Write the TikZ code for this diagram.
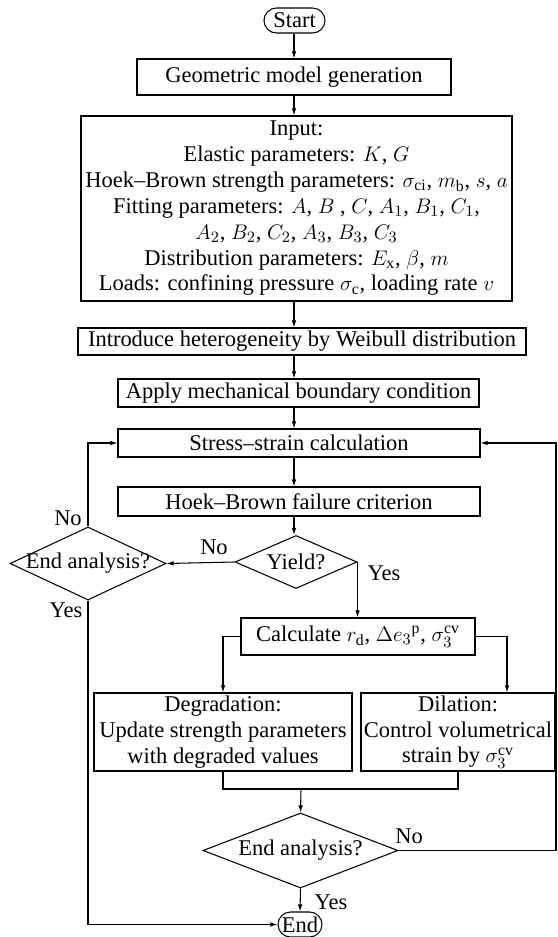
\documentclass[tikz,border=0pt]{standalone}
\usepackage{fontspec}
\setmainfont{Liberation Serif}
\usepackage{tikz}
\usetikzlibrary{shapes.geometric,arrows.meta}
\tikzstyle{Pbox}=[shape=rectangle,draw=black,line width=0.6pt,align=center,inner sep=0pt]
\tikzstyle{Dbox}=[shape=diamond,draw=black,line width=0.6pt,inner sep=0pt]
\tikzstyle{Tbox}=[shape=rectangle,draw=black,line width=0.6pt,rounded corners=0.25cm,inner sep=0pt,minimum height=0.5cm]
\tikzstyle{Tlabel}=[inner sep=0pt]
\tikzstyle{flowline}=[line width=0.6pt]
\tikzstyle{flowedge}=[-{Latex[length=4pt,width=2.6pt]},line width=0.6pt]

\begin{document}
\begin{tikzpicture}[font=\fontsize{12.8pt}{14.7pt}\selectfont]
\useasboundingbox (0,0) rectangle (11.14,-18.74);
\coordinate (col) at (5.88,0);

\node[Tbox,minimum width=1.22cm] (start) at (5.89,-0.41) {Start};
\node[Pbox,minimum width=6.28cm,minimum height=0.72cm] (geo) at (5.88,-1.54) {Geometric model generation};
\node[Pbox,minimum width=8.62cm,minimum height=3.70cm] (input) at (5.93,-4.17) {Input:\\
 Elastic parameters: $K$, $G$\\
 Hoek--Brown strength parameters: $\sigma_{\mathrm{ci}}$, $m_{\mathrm{b}}$, $s$, $a$\\
 Fitting parameters: $A$, $B$ , $C$, $A_1$, $B_1$, $C_1$,\\
 $A_2$, $B_2$, $C_2$, $A_3$, $B_3$, $C_3$\\
 Distribution parameters: $E_{\mathrm{x}}$, $\beta$, $m$\\
 Loads: confining pressure $\sigma_{\mathrm{c}}$, loading rate $v$};
\node[Pbox,minimum width=8.96cm,minimum height=0.54cm] (intro) at (6.04,-6.83) {Introduce heterogeneity by Weibull distribution};
\node[Pbox,minimum width=7.22cm,minimum height=0.56cm] (apply) at (5.97,-7.86) {Apply mechanical boundary condition};
\node[Pbox,minimum width=7.24cm,minimum height=0.56cm] (stress) at (5.98,-8.86) {Stress--strain calculation};
\node[Pbox,minimum width=7.24cm,minimum height=0.58cm] (hoek) at (5.98,-10.03) {Hoek--Brown failure criterion};

\node[Dbox,aspect=2.3,minimum width=2.44cm,minimum height=1.06cm] (yield) at (5.92,-11.24) {Yield?};
\node[Dbox,aspect=2.14,inner xsep=-4pt,minimum width=3.12cm,minimum height=1.46cm] (endA) at (1.76,-11.27) {End analysis?};

\node[Pbox,minimum width=4.68cm,minimum height=0.74cm] (calc) at (7.16,-12.73) {Calculate $r_{\mathrm{d}}$, $\Delta e_3{}^{\mathrm{p}}$, $\sigma_3^{\mathrm{cv}}$};
\node[Pbox,minimum width=5.16cm,minimum height=1.56cm] (degr) at (4.46,-14.64) {Degradation:\\Update strength parameters\\with degraded values};
\node[Pbox,minimum width=3.88cm,minimum height=1.56cm] (dil) at (9.16,-14.64) {Dilation:\\Control volumetrical\\strain by $\sigma_3^{\mathrm{cv}}$};

\node[Dbox,aspect=2.6,minimum width=3.90cm,minimum height=1.50cm] (endB) at (6.01,-17.01) {End analysis?};
\node[Tbox,minimum width=0.88cm] (endN) at (6.00,-18.49) {End};

\node[Tlabel] (noA) at (4.28,-10.94) {No};
\node[Tlabel] (noB) at (1.36,-10.36) {No};
\node[Tlabel] (yesA) at (1.32,-12.20) {Yes};
\node[Tlabel] (yesY) at (7.68,-11.46) {Yes};
\node[Tlabel] (noE) at (8.18,-16.72) {No};
\node[Tlabel] (yesE) at (6.62,-18.04) {Yes};

\coordinate (merge) at (6.02,-15.78);
\coordinate (rback) at (11.12,0);

\path
(start.south -| col) edge [flowedge] (geo.north -| col)
(geo.south -| col) edge [flowedge] (input.north -| col)
(input.south -| col) edge [flowedge] (intro.north -| col)
(intro.south -| col) edge [flowedge] (apply.north -| col)
(apply.south -| col) edge [flowedge] (stress.north -| col)
(stress.south -| col) edge [flowedge] (hoek.north -| col)
(hoek.south -| col) edge [flowedge] (yield.north -| col)
(yield.west) edge [flowedge] (endA.east)
(endB.south) edge [flowedge] (endN.north);

\draw[flowedge] (endA.north) |- (stress.west);
\draw[flowedge] (endA.south) |- (endN.west);
\draw[flowedge] (yield.east) -- (yield.east |- calc.north);
\draw[flowedge] (calc.west) -| (degr.north);
\draw[flowedge] (calc.east) -| ([xshift=0.98cm]dil.north);
\draw[flowline] (degr.south) |- (merge) -| (dil.south);
\draw[flowedge] (merge) -- (endB.north);
\draw[flowedge] (endB.east) -| (rback |- stress.east) -- (stress.east);

\end{tikzpicture}
\end{document}
